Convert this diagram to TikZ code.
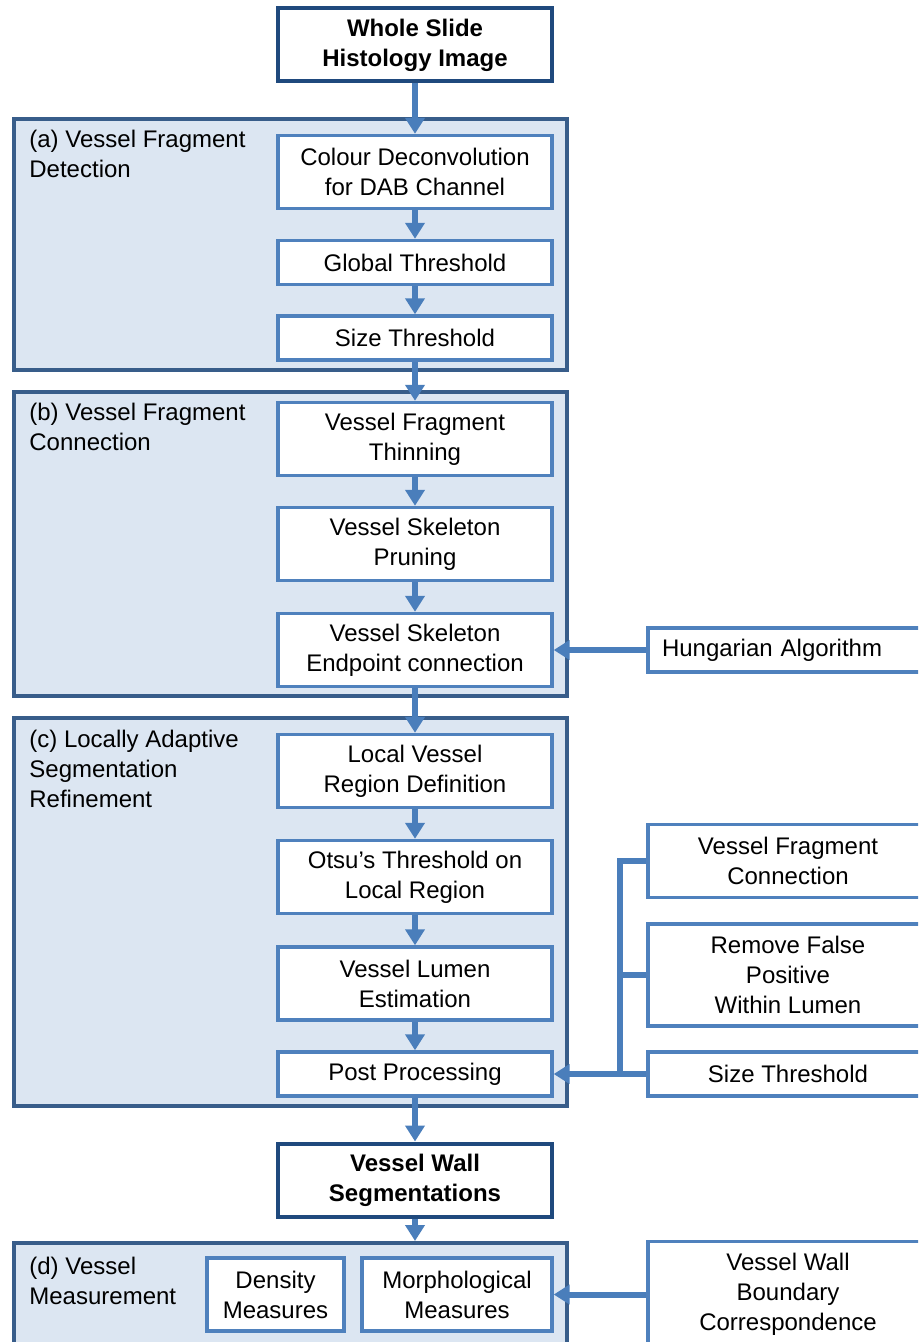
\documentclass[tikz,border=0pt]{standalone}
\usepackage{fontspec}
\setmainfont{Liberation Sans}
\usepackage{tikz}
\usetikzlibrary{arrows.meta}

\definecolor{grpfill}{RGB}{220,230,242}
\definecolor{grpline}{RGB}{56,93,138}
\definecolor{boxline}{RGB}{79,129,189}
\definecolor{arrowblue}{RGB}{74,126,187}
\definecolor{darkline}{RGB}{31,73,125}

\begin{document}
\begin{tikzpicture}
  [x=0.5pt,y=-0.5pt,font=\fontsize{12}{15}\selectfont,
   grp/.style={draw=grpline,fill=grpfill,line width=2pt,inner sep=0pt,minimum width=276.5pt},
   box/.style={draw=boxline,fill=white,line width=1.7pt,inner sep=0pt,align=center,minimum width=137pt},
   tallbox/.style={box,minimum height=36.5pt},
   flatbox/.style={box,minimum height=22pt},
   mainbox/.style={tallbox,draw=darkline,line width=2pt,font=\fontsize{12}{15}\selectfont\bfseries},
   sidebox/.style={box,minimum width=140pt},
   lbl/.style={anchor=north west,align=left,inner sep=0pt},
   flow/.style={draw=arrowblue,line width=3pt,-{Triangle[length=8pt,width=9.5pt]}},
   link/.style={draw=arrowblue,line width=3pt}]

  \useasboundingbox (0,0) rectangle (918,1342);
  \clip (0,0) rectangle (918,1342);

  % groups
  \node[grp,minimum height=125.5pt] (grpA) at (290.5,244.5) {};
  \node[grp,minimum height=152pt] (grpB) at (290.5,544) {};
  \node[grp,minimum height=194pt] (grpC) at (290.5,912) {};
  \node[grp,minimum height=58pt] (grpD) at (290.5,1301) {};

  \node[lbl] (labA) at (29,130) {(a) Vessel Fragment\\Detection};
  \node[lbl] (labB) at (29,403) {(b) Vessel Fragment\\Connection};
  \node[lbl] (labC) at (29,730) {(c) Locally Adaptive\\Segmentation\\Refinement};
  \node[lbl] (labD) at (29,1257) {(d) Vessel\\Measurement};

  % main column
  \node[mainbox] (img) at (415,45) {Whole Slide\\Histology Image};
  \node[tallbox] (col) at (415,172) {Colour Deconvolution\\for DAB Channel};
  \node[flatbox] (glob) at (415,262.5) {Global Threshold};
  \node[flatbox] (sizeA) at (415,338) {Size Threshold};
  \node[tallbox] (thin) at (415,439) {Vessel Fragment\\Thinning};
  \node[tallbox] (prun) at (415,544) {Vessel Skeleton\\Pruning};
  \node[tallbox] (endp) at (415,650) {Vessel Skeleton\\Endpoint connection};
  \node[tallbox] (locv) at (415,771) {Local Vessel\\Region Definition};
  \node[tallbox] (otsu) at (415,877) {Otsu’s Threshold on\\Local Region};
  \node[tallbox] (lumen) at (415,983.5) {Vessel Lumen\\Estimation};
  \node[flatbox] (post) at (415,1074) {Post Processing};
  \node[mainbox] (vws) at (415,1180) {Vessel Wall\\Segmentations};
  \node[tallbox,minimum width=68.5pt] (dens) at (275.5,1294.5) {Density\\Measures};
  \node[tallbox,minimum width=95pt] (morph) at (457,1294.5) {Morphological\\Measures};

  % side inputs
  \node[sidebox,minimum height=22pt,align=left,text width=126pt,inner xsep=7pt] (hung) at (788,650) {Hungarian Algorithm};
  \node[sidebox,minimum height=36.5pt] (vfc) at (788,861) {Vessel Fragment\\Connection};
  \node[sidebox,minimum height=51pt] (rmfp) at (788,975) {Remove False\\Positive\\Within Lumen};
  \node[sidebox,minimum height=22pt] (sizeC) at (788,1074) {Size Threshold};
  \node[sidebox,minimum height=53pt] (vwbc) at (788,1294.5) {Vessel Wall\\Boundary\\Correspondence};
  \coordinate (jn) at (620,1074);

  \foreach \from/\to in {img.south/col.north,col.south/glob.north,glob.south/sizeA.north,
      sizeA.south/thin.north,thin.south/prun.north,prun.south/endp.north,endp.south/locv.north,
      locv.south/otsu.north,otsu.south/lumen.north,lumen.south/post.north,post.south/vws.north,
      hung.west/endp.east,sizeC.west/post.east,vwbc.west/morph.east}
    \draw[flow] (\from) -- (\to);
  \draw[flow] (vws.south) -- (vws.south |- grpD.north);
  \draw[link] (vfc.west) -| (jn);
  \draw[link] (rmfp.west) -- (rmfp.west -| jn);
\end{tikzpicture}
\end{document}
